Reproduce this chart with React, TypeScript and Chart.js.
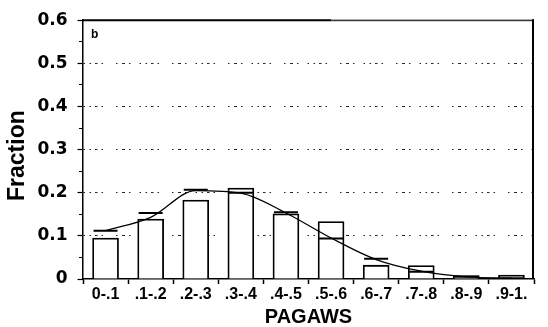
import React, { useEffect, useRef } from "react";
import { Chart, registerables } from "chart.js";

Chart.register(...registerables);

const categories = [
  "0-.1", ".1-.2", ".2-.3", ".3-.4", ".4-.5",
  ".5-.6", ".6-.7", ".7-.8", ".8-.9", ".9-1.",
];

// observed fraction per bin (bars)
const barFractions = [0.095, 0.139, 0.183, 0.211, 0.151, 0.133, 0.032, 0.031, 0.008, 0.009];

// comparison fraction per bin (short horizontal marks)
const markFractions = [0.112, 0.153, 0.207, 0.2, 0.155, 0.094, 0.047, 0.017, 0.005, 0.002];

// smoothed curve through the bins
const curveFractions = [0.112, 0.143, 0.205, 0.199, 0.153, 0.095, 0.045, 0.018, 0.005, 0.002];

const yMin = 0;
const yMax = 0.6;
const yStep = 0.05;

const panelLetter = "b";
const xTitle = "PAGAWS";
const yTitle = "Fraction";

const FONT = "'Liberation Sans', Arial, Helvetica, sans-serif";
const WIDE_FONT = "'DejaVu Sans', 'Liberation Sans', Arial, sans-serif";

const isMajor = (v: number) => Math.abs(v * 10 - Math.round(v * 10)) < 1e-6;

const framePlugin = {
  id: "frame",
  afterDraw(chart: any) {
    const { ctx, chartArea } = chart;
    const { left, right, top, bottom } = chartArea;
    ctx.save();
    // top edge: heavy on the left part, lighter double line to the right
    const split = left + (right - left) * 0.55;
    ctx.strokeStyle = "#000";
    ctx.lineWidth = 2;
    ctx.beginPath();
    ctx.moveTo(left, top);
    ctx.lineTo(split, top);
    ctx.stroke();
    ctx.lineWidth = 1;
    ctx.strokeStyle = "#999";
    ctx.beginPath();
    ctx.moveTo(split, top - 0.5);
    ctx.lineTo(right, top - 0.5);
    ctx.stroke();
    ctx.strokeStyle = "#111";
    ctx.beginPath();
    ctx.moveTo(split, top + 0.5);
    ctx.lineTo(right, top + 0.5);
    ctx.stroke();
    // right edge
    ctx.strokeStyle = "#000";
    ctx.lineWidth = 2;
    ctx.beginPath();
    ctx.moveTo(right - 1, top - 1);
    ctx.lineTo(right - 1, bottom);
    ctx.stroke();
    // panel letter
    ctx.fillStyle = "#000";
    ctx.font = `bold 12px ${FONT}`;
    ctx.textAlign = "left";
    ctx.textBaseline = "alphabetic";
    ctx.fillText(panelLetter, left + 8, top + 18);
    // vertical axis title
    ctx.save();
    ctx.translate(24, (top + bottom) / 2 + 6);
    ctx.rotate(-Math.PI / 2);
    ctx.textAlign = "center";
    ctx.textBaseline = "alphabetic";
    ctx.font = `bold 23px ${FONT}`;
    ctx.fillText(yTitle, 0, 0);
    ctx.restore();
    ctx.restore();
  },
};

export default function App() {
  const canvasRef = useRef<HTMLCanvasElement | null>(null);

  useEffect(() => {
    document.body.style.margin = "0";
    const canvas = canvasRef.current;
    if (!canvas) return;

    const chart = new Chart(canvas, {
      type: "bar",
      data: {
        labels: categories,
        datasets: [
          {
            type: "line",
            data: curveFractions,
            borderColor: "#000",
            borderWidth: 1.3,
            pointRadius: 0,
            cubicInterpolationMode: "monotone",
            fill: false,
            order: 1,
          } as any,
          {
            type: "line",
            data: markFractions,
            showLine: false,
            pointStyle: "line",
            pointRadius: 12,
            pointHoverRadius: 12,
            pointBorderWidth: 2,
            pointBorderColor: "#000",
            pointBackgroundColor: "#000",
            order: 2,
          } as any,
          {
            type: "bar",
            data: barFractions,
            backgroundColor: "#fff",
            borderColor: "#000",
            borderWidth: 1.8,
            barThickness: 26,
            order: 3,
          },
        ],
      },
      options: {
        responsive: false,
        animation: false,
        events: [],
        layout: { padding: { top: 20, right: 1, bottom: 0, left: 0 } },
        plugins: {
          legend: { display: false },
          tooltip: { enabled: false },
        },
        scales: {
          x: {
            offset: true,
            grid: {
              display: true,
              offset: true,
              drawOnChartArea: false,
              drawTicks: true,
              tickLength: 5,
              tickColor: "#000",
              tickWidth: 1.5,
            },
            border: { display: true, color: "#000", width: 1.5 },
            ticks: {
              color: "#000",
              font: { family: FONT, size: 16, weight: "bold" },
              padding: 1,
              maxRotation: 0,
              autoSkip: false,
            },
            title: {
              display: true,
              text: xTitle,
              color: "#000",
              font: { family: FONT, size: 20, weight: "bold", lineHeight: 1 },
              padding: { top: 0, bottom: 0 },
            },
            afterFit: (scale: any) => {
              scale.height = 48;
            },
          },
          y: {
            min: yMin,
            max: yMax,
            grid: {
              display: true,
              drawTicks: true,
              tickLength: 5.5,
              tickWidth: 1.2,
              tickColor: "#000",
              lineWidth: 1,
              color: (ctx: any) => {
                const v = ctx.tick ? ctx.tick.value : 0;
                if (!isMajor(v) || v < 0.05 || v > 0.55) return "rgba(0,0,0,0)";
                return "#222";
              },
              tickBorderDash: (ctx: any) => {
                const v = ctx.tick ? ctx.tick.value : 0;
                return isMajor(v) ? [] : [0, 1.5, 4, 100];
              },
            },
            border: {
              display: true,
              color: "#000",
              width: 1.5,
              dash: [1.5, 4.5, 1.5, 4, 2.5, 4, 1.5, 13, 1.5, 4.5, 3, 4, 1.5, 9],
            },
            ticks: {
              stepSize: yStep,
              color: "#000",
              padding: 10,
              autoSkip: false,
              font: { family: WIDE_FONT, size: 17, weight: "bold" },
              callback: (value: any) => {
                const v = Number(value);
                if (!isMajor(v)) return "";
                return v === 0 ? "0" : v.toFixed(1);
              },
            },
            title: { display: false },
            afterFit: (scale: any) => {
              scale.width = 83;
            },
          },
        },
      },
      plugins: [framePlugin],
    });

    return () => {
      chart.destroy();
    };
  }, []);

  return (
    <canvas
      ref={canvasRef}
      width={548}
      height={327}
      style={{ display: "block", width: 548, height: 327 }}
    />
  );
}
